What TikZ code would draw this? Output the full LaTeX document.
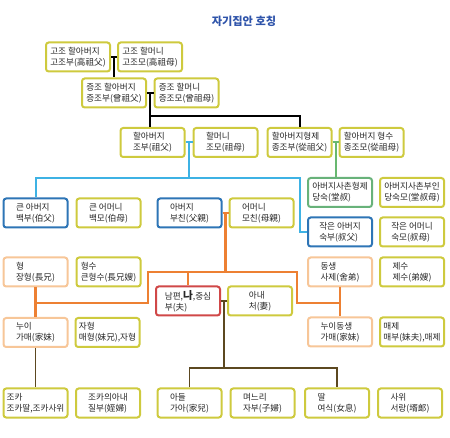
\documentclass[tikz,border=0pt]{standalone}
\usepackage{fontspec}
\setmainfont{Noto Sans CJK KR}
\usetikzlibrary{calc}

\definecolor{boxyellow}{RGB}{206,202,62}
\definecolor{boxblue}{RGB}{46,117,182}
\definecolor{boxgreen}{RGB}{104,178,122}
\definecolor{boxpeach}{RGB}{247,198,152}
\definecolor{boxred}{RGB}{208,72,72}
\definecolor{linecyan}{RGB}{62,178,228}
\definecolor{lineorange}{RGB}{237,128,50}
\definecolor{linegreen}{RGB}{104,184,112}
\definecolor{linebrown}{RGB}{92,72,32}
\definecolor{titleblue}{RGB}{47,84,170}

\begin{document}
\begin{tikzpicture}[x=0.75pt,y=-0.75pt,
    person/.style={draw=boxyellow,line width=1.5pt,rounded corners=2pt,fill=white,
      minimum width=48pt,minimum height=21.75pt,inner sep=0.5pt,align=left,
      font=\fontsize{6.45}{8.4}\selectfont,text=black!85},
    blueperson/.style={person,draw=boxblue},
    greenperson/.style={person,draw=boxgreen},
    peachperson/.style={person,draw=boxpeach},
    redperson/.style={person,draw=boxred},
    kin/.style={line width=1.5pt}]
  \useasboundingbox (0,0) rectangle (450,438);
  \node[font=\fontsize{8.4}{10}\selectfont\bfseries,text=titleblue] (title) at (244,21) {자기집안 호칭};

  % 고조, 증조, 조부
  \node[person] (gojob) at (78,57) {고조 할아버지\\고조부(高祖父)};
  \node[person] (gojom) at (150,57) {고조 할머니\\고조모(高祖母)};
  \node[person] (jeungjob) at (114,93) {증조 할아버지\\증조부(曾祖父)};
  \node[person] (jeungjom) at (186.5,93) {증조 할머니\\증조모(曾祖母)};
  \node[person] (job) at (152.5,142.5) {할아버지\\조부(祖父)};
  \node[person] (jom) at (225.5,142.5) {할머니\\조모(祖母)};
  \node[person] (jongjob) at (299.5,142.5) {할아버지형제\\종조부(從祖父)};
  \node[person] (jongjom) at (371.5,142.5) {할아버지 형수\\종조모(從祖母)};

  % 아버지 대
  \node[blueperson] (keunab) at (35.5,213) {큰 아버지\\백부(伯父)};
  \node[person] (keuneom) at (108.5,213) {큰 어머니\\백모(伯母)};
  \node[blueperson] (abeoji) at (189.5,213) {아버지\\부친(父親)};
  \node[person] (eomeoni) at (261.5,213) {어머니\\모친(母親)};
  \node[greenperson] (dangsuk) at (340,192.5) {아버지사촌형제\\당숙(堂叔)};
  \node[person] (dangsukmo) at (412,192.5) {아버지사촌부인\\당숙모(堂叔母)};
  \node[blueperson] (jakab) at (340,232) {작은 아버지\\숙부(叔父)};
  \node[person] (jakeom) at (412,232) {작은 어머니\\숙모(叔母)};

  % 나의 대
  \node[peachperson] (hyeong) at (35.5,272) {형\\장형(長兄)};
  \node[person] (hyeongsu) at (108.5,272) {형수\\큰형수(長兄嫂)};
  \node[peachperson] (dongsaeng) at (340,272) {동생\\사제(舍弟)};
  \node[person] (jesu) at (412,272) {제수\\제수(弟嫂)};
  \node[redperson] (na) at (188,301) {남편,{\fontsize{8}{8}\selectfont\bfseries 나},중심\\부(夫)};
  \node[person] (anae) at (260,301) {아내\\처(妻)};
  \node[peachperson] (nui) at (35.5,332.5) {누이\\가매(家妹)};
  \node[person] (jahyeong) at (107.5,332.5) {자형\\매형(妹兄),자형};
  \node[peachperson] (nuidong) at (340,332) {누이동생\\가매(家妹)};
  \node[person] (maeje) at (412,332) {매제\\매부(妹夫),매제};

  % 아들 대
  \node[person] (joka) at (35.5,403) {조카\\조카딸,조카사위};
  \node[person] (jilbu) at (108,403) {조카의아내\\질부(姪婦)};
  \node[person] (adeul) at (189.5,403) {아들\\가아(家兒)};
  \node[person] (myeoneuri) at (262.5,403) {며느리\\자부(子婦)};
  \node[person] (ttal) at (337,403) {딸\\여식(女息)};
  \node[person] (sawi) at (410,403) {사위\\서랑(壻郞)};

  % 부부와 자녀
  \coordinate (m1) at ($(gojob.east)!.5!(gojom.west)$);
  \draw[kin] (gojob.east) -- (gojom.west);
  \draw[kin] (m1) -- (m1 |- jeungjob.north);

  \coordinate (m2) at ($(jeungjob.east)!.5!(jeungjom.west)$);
  \draw[kin] (jeungjob.east) -- (jeungjom.west);
  \draw[kin] (m2) -- (m2 |- job.north);
  \draw[kin] ($(m2)+(0,23)$) -| (jongjob.north);

  \coordinate (m3) at ($(job.east)!.5!(jom.west)$);
  \draw[kin,linecyan] (job.east) -- (jom.west);
  \draw[kin,linecyan] (m3) -- ++(0,35.5) coordinate (c3);
  \draw[kin,linecyan] (keunab.north) |- (c3) -- ++(111,0) |- (jakab.west);

  \coordinate (g3) at ($(jongjob.east)!.5!(jongjom.west)$);
  \draw[kin,linegreen] (jongjob.east) -- (jongjom.west);
  \draw[kin,linegreen] (g3) -- (g3 |- dangsuk.north);

  \coordinate (m4) at ($(abeoji.east)!.5!(eomeoni.west)$);
  \draw[kin,lineorange,line width=2pt] (abeoji.east) -- (eomeoni.west);
  \draw[kin,lineorange,line width=2pt] (m4) -- ++(0,59) coordinate (c4);
  \draw[kin,lineorange,line width=2pt] (c4) -- ++(-77.5,0) -- ++(0,31) -| (hyeong.south);
  \draw[kin,lineorange,line width=2pt] (c4) -- ++(71.5,0) -- ++(0,31) -| (dongsaeng.south);
  \draw[kin,lineorange,line width=2pt] (c4 -| na.north) -- (na.north);
  \draw[kin,lineorange,line width=2pt] (hyeong.south) -- (nui.north);
  \draw[kin,lineorange,line width=2pt] (dongsaeng.south) -- (nuidong.north);

  \coordinate (m6) at ($(na.east)!.5!(anae.west)$);
  \draw[kin,linebrown,line width=1.2pt] (na.east) -- (anae.west);
  \draw[kin,linebrown,line width=1.2pt] (m6) -- ++(0,67) coordinate (c6);
  \draw[kin,linebrown,line width=1.2pt] (adeul.north) |- (c6) -| (ttal.north);
  \draw[kin,linebrown,line width=1.2pt] (nui.south) -- (joka.north);
\end{tikzpicture}
\end{document}
